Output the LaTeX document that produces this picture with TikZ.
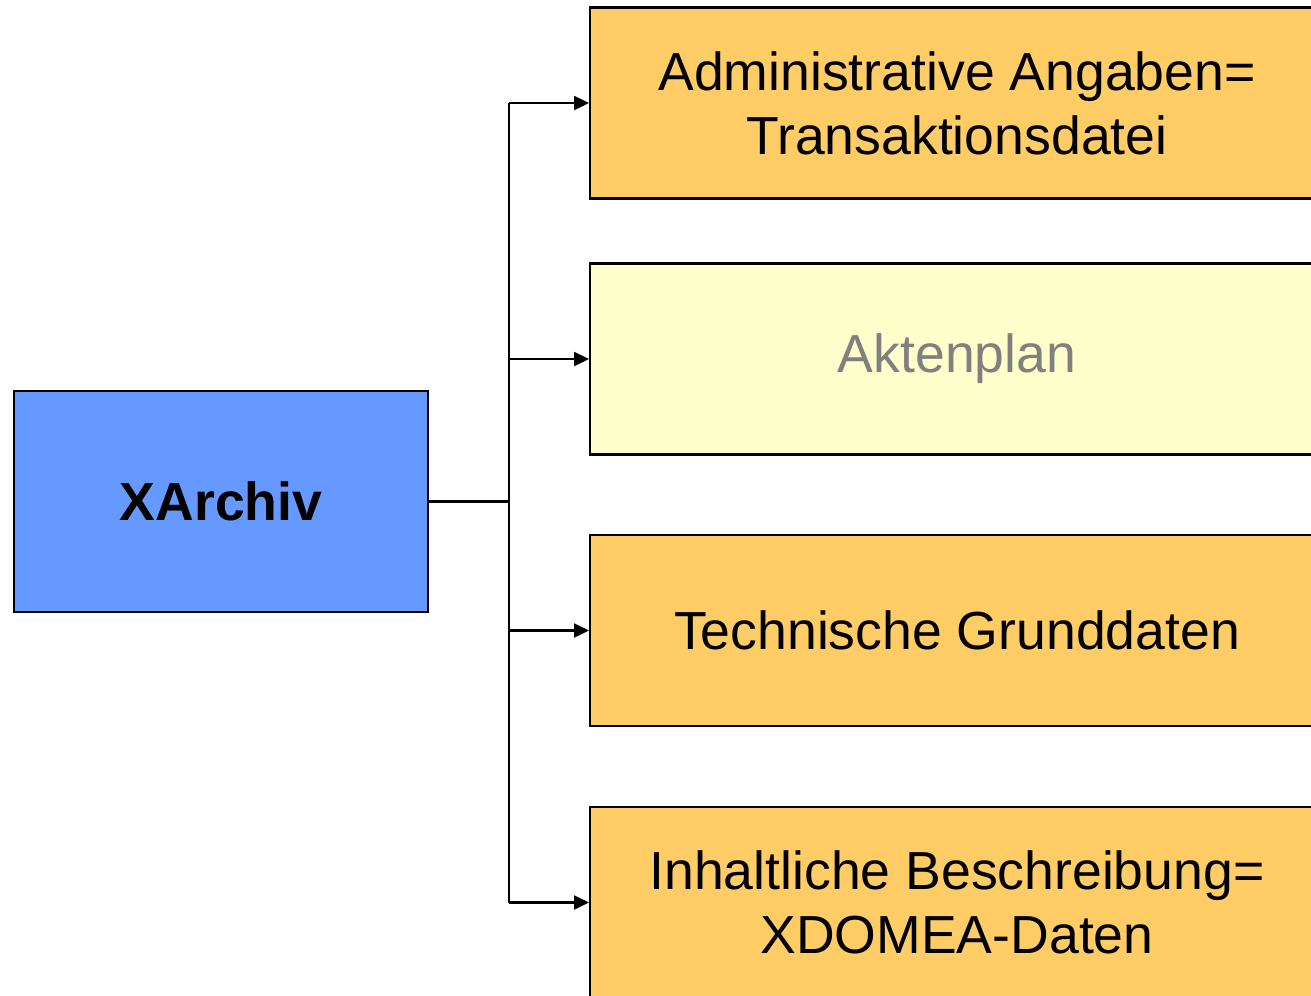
\documentclass[tikz,border=0pt]{standalone}
\usepackage{fontspec}
\setmainfont{Liberation Sans}
\usetikzlibrary{arrows.meta,calc}
\definecolor{boxblue}{HTML}{6699FF}
\definecolor{boxorange}{HTML}{FFCC66}
\definecolor{boxyellow}{HTML}{FFFFCC}
\definecolor{textgray}{HTML}{808080}
\begin{document}
\begin{tikzpicture}[x=0.02cm,y=-0.02cm,>={Triangle[length=0.3cm,width=0.28cm]},
	font=\fontsize{30.5}{36.5}\selectfont,
	part/.style={draw,line width=1.2pt,fill=boxorange,align=center,minimum width=14.68cm,minimum height=3.82cm,inner sep=0pt},
	link/.style={line width=1.3pt}]
	\clip (0,0) rectangle (1311,995);
	\fill[white] (0,0) rectangle (1311,995);
	\node[draw,line width=1.2pt,fill=boxblue,minimum width=8.28cm,minimum height=4.42cm,font=\fontsize{30.5}{36.5}\selectfont\bfseries] (xa) at (221,501.5) {XArchiv};
	\node[part] (adm) at (957,103) {Administrative Angaben=\\Transaktionsdatei};
	\node[part,fill=boxyellow,text=textgray] (akt) at (957,359) {Aktenplan};
	\node[part] (tec) at (957,630.5) {Technische Grunddaten};
	\node[part] (inh) at (957,902.5) {Inhaltliche Beschreibung=\\XDOMEA-Daten};
	\coordinate (jn) at (509,501.5);
	\draw[link] (xa.east) -- (jn);
	\draw[link] (jn |- adm.west) -- (jn |- inh.west);
	\foreach \b in {adm,akt,tec,inh}
		\draw[link,->] (jn |- \b.west) -- (\b.west);
\end{tikzpicture}
\end{document}
